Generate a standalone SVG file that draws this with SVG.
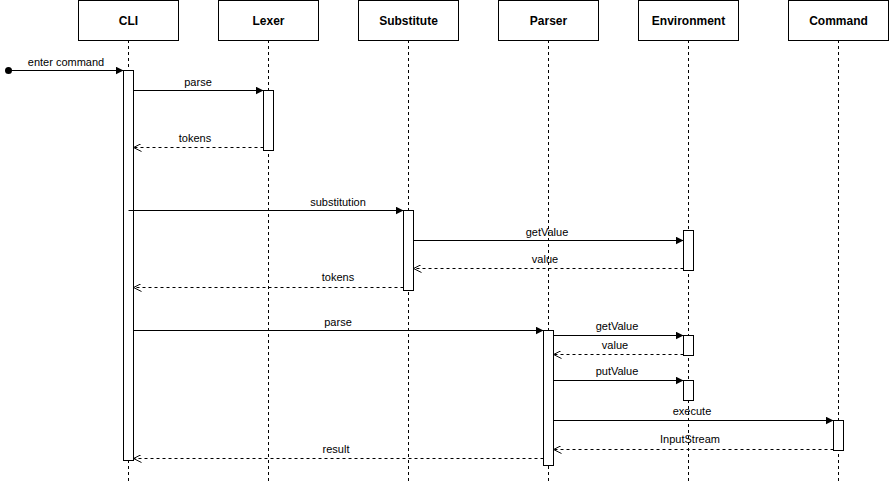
<svg xmlns="http://www.w3.org/2000/svg" width="889" height="481" viewBox="0 0 889 481">
<style>
.box{fill:#fff;stroke:#000;stroke-width:1}
.hd{font-family:"Liberation Sans",Arial,sans-serif;font-size:12px;font-weight:bold;text-anchor:middle;fill:#000}
.life{stroke:#000;stroke-width:1;stroke-dasharray:3 3;fill:none}
.act{fill:#fff;stroke:#000;stroke-width:1}
.msg{stroke:#000;stroke-width:1;fill:none}
.ret{stroke:#000;stroke-width:1;stroke-dasharray:3 3;fill:none}
.lbl{font-family:"Liberation Sans",Arial,sans-serif;font-size:11px;text-anchor:middle;fill:#000}
</style>
<defs>
<marker id="block" viewBox="0 0 10 10" refX="10" refY="5" markerWidth="8" markerHeight="8" markerUnits="userSpaceOnUse" orient="auto">
<path d="M0,0 L10,5 L0,10 Z" fill="#000"/>
</marker>
<marker id="open" viewBox="0 0 10 10" refX="10" refY="5" markerWidth="8" markerHeight="8" markerUnits="userSpaceOnUse" orient="auto">
<path d="M0,0 L10,5 L0,10" fill="none" stroke="#000" stroke-width="1.2"/>
</marker>
</defs>
<rect width="889" height="481" fill="#fff"/>
<g id="lifelines">
<line class="life" x1="128.5" y1="40" x2="128.5" y2="481"/>
<line class="life" x1="268.5" y1="40" x2="268.5" y2="481"/>
<line class="life" x1="408.5" y1="40" x2="408.5" y2="481"/>
<line class="life" x1="548.5" y1="40" x2="548.5" y2="481"/>
<line class="life" x1="688.5" y1="40" x2="688.5" y2="481"/>
<line class="life" x1="838.5" y1="40" x2="838.5" y2="481"/>
</g>
<g id="node-cli"><rect class="box" x="78.5" y="0.5" width="100" height="40"/><text class="hd" x="128.5" y="24.5">CLI</text></g>
<g id="node-lexer"><rect class="box" x="218.5" y="0.5" width="100" height="40"/><text class="hd" x="268.5" y="24.5">Lexer</text></g>
<g id="node-substitute"><rect class="box" x="358.5" y="0.5" width="100" height="40"/><text class="hd" x="408.5" y="24.5">Substitute</text></g>
<g id="node-parser"><rect class="box" x="498.5" y="0.5" width="100" height="40"/><text class="hd" x="548.5" y="24.5">Parser</text></g>
<g id="node-environment"><rect class="box" x="638.5" y="0.5" width="100" height="40"/><text class="hd" x="688.5" y="24.5">Environment</text></g>
<g id="node-command"><rect class="box" x="788.5" y="0.5" width="100" height="40"/><text class="hd" x="838.5" y="24.5">Command</text></g>
<g id="activations">
<rect class="act" x="123.5" y="70.5" width="10" height="390"/>
<rect class="act" x="263.5" y="90.5" width="10" height="60"/>
<rect class="act" x="403.5" y="210.5" width="10" height="80"/>
<rect class="act" x="683.5" y="230.5" width="10" height="40"/>
<rect class="act" x="543.5" y="330.5" width="10" height="135"/>
<rect class="act" x="683.5" y="335.5" width="10" height="20"/>
<rect class="act" x="683.5" y="380.5" width="10" height="20"/>
<rect class="act" x="833.5" y="420.5" width="10" height="30"/>
</g>
<g id="connectors">
<circle cx="8.5" cy="70.5" r="3.5" fill="#000"/>
<line class="msg" x1="8.5" y1="70.5" x2="123.5" y2="70.5" marker-end="url(#block)"/>
<line class="msg" x1="133.5" y1="90.5" x2="263.5" y2="90.5" marker-end="url(#block)"/>
<line class="ret" x1="263.5" y1="147.5" x2="133.5" y2="147.5" marker-end="url(#open)"/>
<line class="msg" x1="128.5" y1="210.5" x2="403.5" y2="210.5" marker-end="url(#block)"/>
<line class="msg" x1="413.5" y1="240.5" x2="683.5" y2="240.5" marker-end="url(#block)"/>
<line class="ret" x1="683.5" y1="268.5" x2="413.5" y2="268.5" marker-end="url(#open)"/>
<line class="ret" x1="403.5" y1="287.5" x2="133.5" y2="287.5" marker-end="url(#open)"/>
<line class="msg" x1="133.5" y1="330.5" x2="543.5" y2="330.5" marker-end="url(#block)"/>
<line class="msg" x1="553.5" y1="335.5" x2="683.5" y2="335.5" marker-end="url(#block)"/>
<line class="ret" x1="683.5" y1="354.5" x2="553.5" y2="354.5" marker-end="url(#open)"/>
<line class="msg" x1="553.5" y1="380.5" x2="683.5" y2="380.5" marker-end="url(#block)"/>
<line class="msg" x1="553.5" y1="420.5" x2="833.5" y2="420.5" marker-end="url(#block)"/>
<line class="ret" x1="833.5" y1="449.5" x2="553.5" y2="449.5" marker-end="url(#open)"/>
<line class="ret" x1="543.5" y1="458.5" x2="133.5" y2="458.5" marker-end="url(#open)"/>
</g>
<g id="labels">
<text class="lbl" x="66" y="66">enter command</text>
<text class="lbl" x="198" y="86">parse</text>
<text class="lbl" x="195" y="142">tokens</text>
<text class="lbl" x="338" y="206">substitution</text>
<text class="lbl" x="547" y="236">getValue</text>
<text class="lbl" x="545" y="263">value</text>
<text class="lbl" x="338" y="281">tokens</text>
<text class="lbl" x="338" y="326">parse</text>
<text class="lbl" x="617" y="330">getValue</text>
<text class="lbl" x="615" y="349">value</text>
<text class="lbl" x="617" y="375">putValue</text>
<text class="lbl" x="692" y="415">execute</text>
<text class="lbl" x="690" y="443">InputStream</text>
<text class="lbl" x="336" y="453">result</text>
</g>
</svg>
